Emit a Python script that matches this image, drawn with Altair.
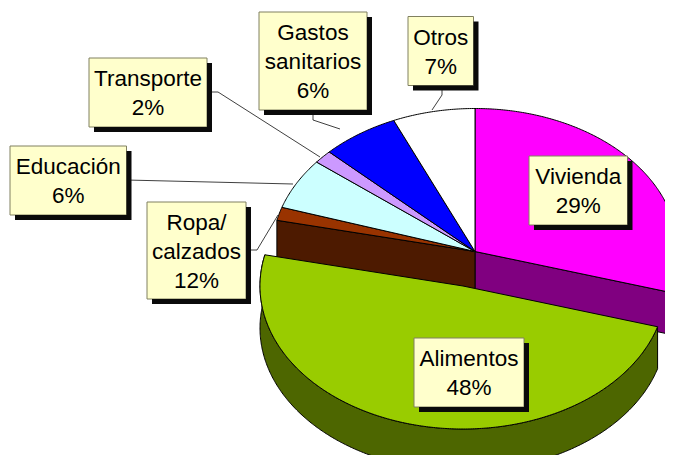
import numpy as np
import pandas as pd
import altair as alt

# Data: the share each slice is drawn with, and the label printed on it
names = ["Vivienda", "Alimentos", "Ropa/\ncalzados", "Educación", "Transporte", "Gastos\nsanitarios", "Otros"]
drawn = [29.6, 48.9, 1.5, 5.75, 1.5, 6.2, 6.55]
printed = ["29%", "48%", "12%", "6%", "2%", "6%", "7%"]

# Styles
top_colors = ["#FF00FF", "#99CC00", "#993300", "#CCFFFF", "#CC99FF", "#0000FF", "#FFFFFF"]
wall_colors = {"Vivienda": "#800080", "Alimentos": "#4D6600", "Ropa": "#4D1A00"}

# Layout (page pixels)
CX, CY, RX, RY, DEPTH = 475.0, 251.5, 203.0, 143.0, 42.0
EX_CX, EX_CY = 463.0, 286.0
BOXES = [(529, 627.5, 156, 225), (414, 524, 338, 407), (147, 246, 202, 299), (10, 126.5, 146, 215),
         (89, 207, 58, 127), (259, 367, 12, 110), (408, 473.5, 16.5, 85.5)]
LEADERS = [
    [(246, 250), (257, 250), (278, 215)],
    [(126, 180), (293, 184)],
    [(207, 92), (218, 92), (320, 157)],
    [(313, 110), (313, 120), (340, 129)],
    [(442, 85), (442, 95), (432, 110)],
]
W, H = 657, 447
SX = alt.Scale(domain=[8, 8 + W], nice=False, zero=False)
SY = alt.Scale(domain=[8 + H, 8], nice=False, zero=False)
LINE = 29

edges = np.concatenate([[0], np.cumsum(drawn)]) * 3.6 * 100 / sum(drawn)


def arc(cx, cy, a, b, dy=0.0):
    t = np.radians(np.linspace(a, b, max(int(abs(b - a) * 2), 2)))
    return list(zip(cx + RX * np.sin(t), cy - RY * np.cos(t) + dy))


def poly(points, fill, stroke="black", width=1.0):
    df = pd.DataFrame(points, columns=["x", "y"])
    df["i"] = range(len(df))
    mark = alt.Chart(df).mark_line(fill=fill, stroke=stroke, strokeWidth=width, clip=True,
                                   strokeJoin="miter", interpolate="linear") if fill else \
        alt.Chart(df).mark_line(stroke=stroke, strokeWidth=width, clip=True)
    return mark.encode(x=alt.X("x:Q", scale=SX, axis=None), y=alt.Y("y:Q", scale=SY, axis=None),
                       order="i:Q")


def wedge(cx, cy, a, b, fill):
    pts = [(cx, cy)] + arc(cx, cy, a, b) + [(cx, cy)]
    return poly(pts, fill)


def box(x0, x1, y0, y1, fill, stroke):
    return poly([(x0, y0), (x1, y0), (x1, y1), (x0, y1), (x0, y0)], fill, stroke=stroke)


layers = []

# Walls of the slices that stay in place
v_end = edges[1]
r_start = edges[2]
end_pt = arc(CX, CY, v_end, v_end)[0]
layers.append(poly(arc(CX, CY, 90, v_end) + arc(CX, CY, v_end, 90, DEPTH) + [arc(CX, CY, 90, 90)[0]],
                   wall_colors["Vivienda"]))
layers.append(poly([(CX, CY), end_pt, (end_pt[0], end_pt[1] + DEPTH), (CX, CY + DEPTH), (CX, CY)],
                   wall_colors["Vivienda"]))
start_pt = arc(CX, CY, r_start, r_start)[0]
layers.append(poly([(CX, CY), start_pt, (start_pt[0], start_pt[1] + DEPTH), (CX, CY + DEPTH), (CX, CY)],
                   wall_colors["Ropa"]))

# Top faces of the slices that stay in place
for i in [0, 2, 3, 4, 5, 6]:
    layers.append(wedge(CX, CY, edges[i], edges[i + 1], top_colors[i]))

# Leader lines
for leader in LEADERS:
    layers.append(poly(leader, None, stroke="#404040", width=1))

# The pulled-out slice
a, b = edges[1], edges[2]
layers.append(poly(arc(EX_CX, EX_CY, a, b) + arc(EX_CX, EX_CY, b, a, DEPTH) + [arc(EX_CX, EX_CY, a, a)[0]],
                   wall_colors["Alimentos"]))
layers.append(wedge(EX_CX, EX_CY, a, b, top_colors[1]))

# Labels
for name, pct, (x0, x1, y0, y1) in zip(names, printed, BOXES):
    layers.append(box(x0, x1, y0, y1, "#FFFFCC", "#808060"))
    layers.append(poly([(x1 + 2.5, y0 + 5), (x1 + 2.5, y1 + 2.5), (x0 + 5, y1 + 2.5)], None, stroke="#0A0A0A", width=5))
    text = name + "\n" + pct
    n = text.count("\n") + 1
    df = pd.DataFrame({"x": [(x0 + x1) / 2], "y": [(y0 + y1) / 2 + 1 - LINE * (n - 1) / 2], "t": [text]})
    layers.append(alt.Chart(df).mark_text(font="Liberation Sans", fontSize=22.5, color="black",
                                          lineBreak="\n", lineHeight=LINE, baseline="middle",
                                          align="center").encode(
        x=alt.X("x:Q", scale=SX, axis=None), y=alt.Y("y:Q", scale=SY, axis=None), text="t:N"))

chart = alt.layer(*layers).properties(width=W, height=H, padding=0,
                                      autosize=alt.AutoSizeParams(type="none")
                                      ).configure_view(stroke=None).resolve_scale(x="shared", y="shared")
chart.save("out.html", embed_options={"renderer": "svg", "actions": False})
